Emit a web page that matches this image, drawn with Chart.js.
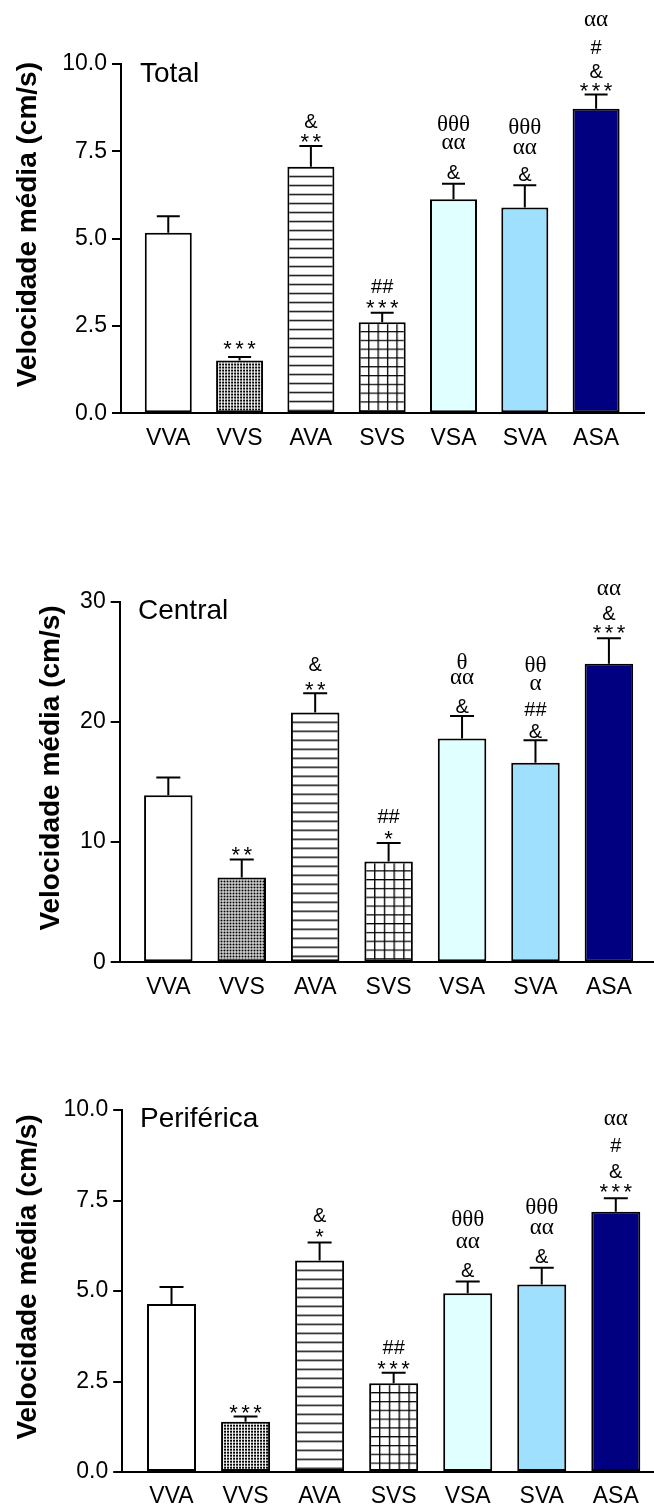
<!DOCTYPE html>
<html><head><meta charset="utf-8">
<script src="https://cdn.jsdelivr.net/npm/chart.js@4/dist/chart.umd.min.js"></script>
<style>
html,body{margin:0;padding:0;background:#fff;overflow:hidden;width:654px;height:1508px;}
canvas{position:absolute;left:0;}
</style></head><body>
<canvas id="c1" width="654" height="470" style="top:0px"></canvas>
<canvas id="c2" width="654" height="480" style="top:540px"></canvas>
<canvas id="c3" width="654" height="478" style="top:1030px"></canvas>
<script>
// ---------- data ----------
const categories = ['VVA', 'VVS', 'AVA', 'SVS', 'VSA', 'SVA', 'ASA'];

const totalMean = [5.17, 1.51, 7.06, 2.61, 6.13, 5.89, 8.72];
const totalSem  = [0.47, 0.10, 0.59, 0.27, 0.44, 0.64, 0.41];

const centralMean = [13.9, 7.06, 20.78, 8.39, 18.61, 16.61, 24.83];
const centralSem  = [1.47, 1.50, 1.61, 1.53, 1.89, 1.86, 2.12];

const periMean = [4.64, 1.39, 5.84, 2.45, 4.94, 5.18, 7.19];
const periSem  = [0.47, 0.14, 0.50, 0.29, 0.32, 0.46, 0.37];

const yTicksTotal = [0, 2.5, 5, 7.5, 10];
const yTickLabelsTotal = ['0.0', '2.5', '5.0', '7.5', '10.0'];
const yTicksCentral = [0, 10, 20, 30];
const yTickLabelsCentral = ['0', '10', '20', '30'];
const yTicksPeri = [0, 2.5, 5, 7.5, 10];
const yTickLabelsPeri = ['0.0', '2.5', '5.0', '7.5', '10.0'];

// significance marks, listed from the bar upwards
const totalMarks   = [[], ['***'], ['**', '&'], ['***', '##'], ['&', 'αα', 'θθθ'], ['&', 'αα', 'θθθ'], ['***', '&', '#', 'αα']];
const centralMarks = [[], ['**'], ['**', '&'], ['*', '##'], ['&', 'αα', 'θ'], ['&', '##', 'α', 'θθ'], ['***', '&', 'αα']];
const periMarks    = [[], ['***'], ['*', '&'], ['***', '##'], ['&', 'αα', 'θθθ'], ['&', 'αα', 'θθθ'], ['***', '&', '#', 'αα']];

const yTitle = 'Velocidade média (cm/s)';

// ---------- layout / style ----------
const barFills = ['#ffffff', 'dots', 'hlines', 'grid', '#e0ffff', '#a0e0ff', '#000080'];
// lift (px) of each mark's visual centre above the error-bar cap
const totalLift   = [[], [13.4], [9.3, 25.3], [10.6, 27.3], [12, 40.4, 61], [11.7, 36.7, 59], [9.3, 23.6, 47.6, 73.6]];
const centralLift = [[], [9.7], [9, 29.7], [10, 27.4], [10, 36.7, 55], [9, 31, 56, 75.7], [10.6, 26, 49]];
const periLift    = [[], [9], [10.6, 27.3], [9.4, 26], [11.7, 38.4, 63.4], [12, 38.7, 61.3], [12.3, 27.6, 53.3, 79]];

const panels = [
  {id: 'c1', title: 'Total', mean: totalMean, sem: totalSem, ticks: yTicksTotal, tickLabels: yTickLabelsTotal,
   marks: totalMarks, lift: totalLift, top: 0, height: 470, areaTop: 64, areaBottom: 413.3, axisX: 121, areaRight: 644.6,
   xmin: -0.663, xmax: 6.68, barW: 47, capW: 23, yTitleX: 28, titleX: 140, titleBase: 81.7, xPad: 12},
  {id: 'c2', title: 'Central', mean: centralMean, sem: centralSem, ticks: yTicksCentral, tickLabels: yTickLabelsCentral,
   marks: centralMarks, lift: centralLift, top: 540, height: 480, areaTop: 601.7, areaBottom: 962.3, axisX: 119.7, areaRight: 654,
   xmin: -0.662, xmax: 6.614, barW: 48.5, capW: 24, yTitleX: 51, titleX: 138, titleBase: 619.3, xPad: 12},
  {id: 'c3', title: 'Periférica', mean: periMean, sem: periSem, ticks: yTicksPeri, tickLabels: yTickLabelsPeri,
   marks: periMarks, lift: periLift, top: 1030, height: 478, areaTop: 1110, areaBottom: 1472, axisX: 122.2, areaRight: 654,
   xmin: -0.666, xmax: 6.516, barW: 49, capW: 24, yTitleX: 28, titleX: 140, titleBase: 1126.7, xPad: 11}
];

const SANS = "'Liberation Sans', Arial, Helvetica, sans-serif";
const SERIF = "'Liberation Serif', 'Times New Roman', serif";
Chart.defaults.font.family = SANS;
Chart.defaults.color = '#000';

function makePattern(kind) {
  const c = document.createElement('canvas');
  const g = c.getContext('2d');
  if (kind === 'dots') {
    c.width = 3; c.height = 3;
    g.fillStyle = '#fff'; g.fillRect(0, 0, 3, 3);
    g.fillStyle = '#000'; g.fillRect(0, 0, 2, 2);
  } else if (kind === 'hlines') {
    c.width = 10; c.height = 9;
    g.fillStyle = '#fff'; g.fillRect(0, 0, 10, 9);
    g.fillStyle = '#000'; g.fillRect(0, 0, 10, 1.4);
  } else {
    c.width = 10; c.height = 10;
    g.fillStyle = '#fff'; g.fillRect(0, 0, 10, 10);
    g.fillStyle = '#000'; g.fillRect(0, 0, 10, 1.4); g.fillRect(0, 0, 1.4, 10);
  }
  const pat = g.createPattern(c, 'repeat');
  pat.kind = kind;
  return pat;
}

function buildPanel(p) {
  const canvas = document.getElementById(p.id);
  const fills = barFills.map(f => f[0] === '#' ? f : makePattern(f));

  const patternAnchor = {
    id: 'patternAnchor',
    beforeDatasetsDraw(chart) {
      const meta = chart.getDatasetMeta(0);
      meta.data.forEach((el, i) => {
        const f = fills[i];
        if (typeof f === 'string') return;
        const left = el.x - el.width / 2;
        let m = new DOMMatrix().translateSelf(left, el.y);
        if (f.kind === 'grid') m = m.scaleSelf(el.width / 50, 0.88);
        f.setTransform(m);
      });
    }
  };

  const overlay = {
    id: 'overlay',
    afterDatasetsDraw(chart) {
      const ctx = chart.ctx;
      const ys = chart.scales.y;
      const meta = chart.getDatasetMeta(0);
      ctx.save();
      ctx.strokeStyle = '#000';
      ctx.lineWidth = 2;
      ctx.fillStyle = '#000';
      meta.data.forEach((el, i) => {
        const yt = ys.getPixelForValue(p.mean[i] + p.sem[i]);
        ctx.beginPath();
        ctx.moveTo(el.x, el.y);
        ctx.lineTo(el.x, yt);
        ctx.moveTo(el.x - p.capW / 2, yt);
        ctx.lineTo(el.x + p.capW / 2, yt);
        ctx.stroke();
        // significance marks
        p.marks[i].forEach((s, k) => {
          const cy = yt - p.lift[i][k];
          ctx.textAlign = 'center';
          ctx.textBaseline = 'alphabetic';
          if (s[0] === '*') {
            ctx.font = '22px ' + SANS;
            const n = s.length, pitch = 12;
            for (let j = 0; j < n; j++) {
              ctx.fillText('*', el.x + (j - (n - 1) / 2) * pitch, cy + 0.57 * 22);
            }
          } else if (/[αθ]/.test(s)) {
            ctx.font = '23px ' + SERIF;
            const sh = s.indexOf('θ') >= 0 ? 0.34 : 0.23;
            ctx.fillText(s, el.x, cy + sh * 23);
          } else {
            ctx.font = '20px ' + SANS;
            ctx.fillText(s, el.x, cy + 0.36 * 20);
          }
        });
      });
      // panel title
      ctx.textAlign = 'left';
      ctx.textBaseline = 'alphabetic';
      ctx.font = '28px ' + SANS;
      ctx.fillText(p.title, p.titleX, p.titleBase - p.top);
      // y axis title
      const ca = chart.chartArea;
      ctx.save();
      ctx.translate(p.yTitleX, (ca.top + ca.bottom) / 2 - 14);
      ctx.rotate(-Math.PI / 2);
      ctx.textAlign = 'center';
      ctx.textBaseline = 'middle';
      ctx.font = 'bold 28px ' + SANS;
      ctx.fillText(yTitle, 0, 0);
      ctx.restore();
      ctx.restore();
    }
  };

  return new Chart(canvas, {
    type: 'bar',
    data: {
      datasets: [{
        data: categories.map((c, i) => ({x: i, y: p.mean[i]})),
        backgroundColor: fills,
        borderColor: '#000',
        borderWidth: 2,
        borderSkipped: false,
        inflateAmount: 0,
        barThickness: p.barW
      }]
    },
    options: {
      responsive: false,
      animation: false,
      events: [],
      layout: {padding: {left: 0, right: 654 - p.areaRight, top: p.areaTop - p.top, bottom: 0}},
      plugins: {legend: {display: false}, tooltip: {enabled: false}},
      scales: {
        x: {
          type: 'linear', min: p.xmin, max: p.xmax, offset: false,
          grid: {display: false, drawTicks: false},
          border: {display: true, color: '#000', width: 2},
          afterBuildTicks: s => { s.ticks = categories.map((c, i) => ({value: i})); },
          afterFit: s => { s.height = p.top + p.height - p.areaBottom; },
          ticks: {callback: v => categories[v], font: {size: 23}, padding: p.xPad, maxRotation: 0, autoSkip: false, color: '#000'}
        },
        y: {
          type: 'linear', min: p.ticks[0], max: p.ticks[p.ticks.length - 1],
          afterBuildTicks: s => { s.ticks = p.ticks.map(v => ({value: v})); },
          afterFit: s => { s.width = p.axisX; },
          grid: {drawOnChartArea: false, drawTicks: true, tickLength: 9, color: '#000', lineWidth: 2},
          border: {display: true, color: '#000', width: 2},
          ticks: {font: {size: 23}, padding: 5, color: '#000', callback: (v, idx) => p.tickLabels[idx]}
        }
      }
    },
    plugins: [patternAnchor, overlay]
  });
}

panels.forEach(buildPanel);
</script>
</body></html>
